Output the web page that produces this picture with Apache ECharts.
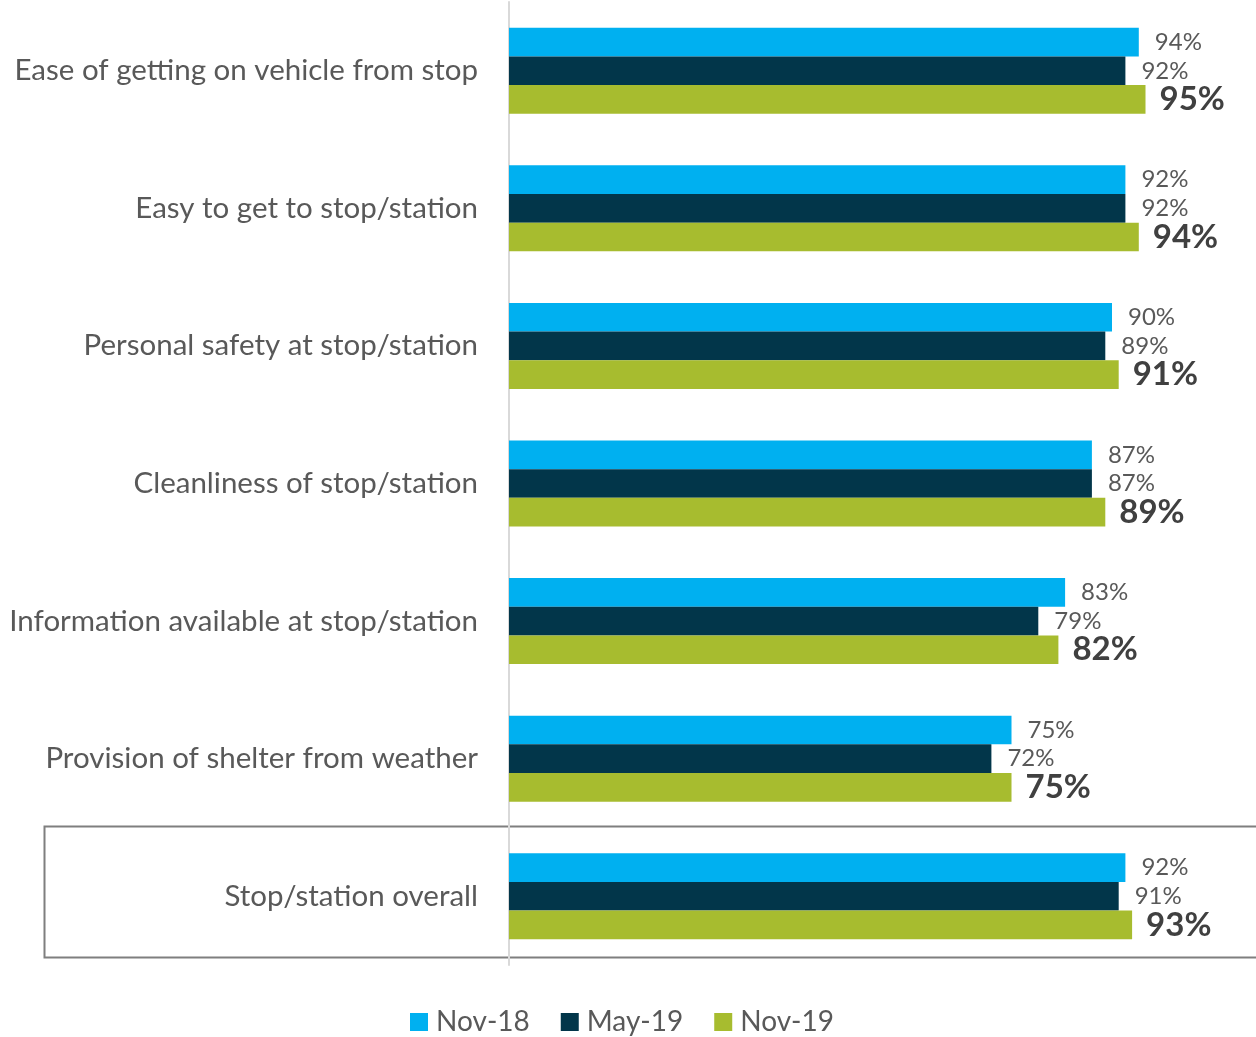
<!DOCTYPE html>
<html>
<head>
<meta charset="utf-8">
<script src="https://cdn.jsdelivr.net/npm/echarts@6/dist/echarts.min.js"></script>
<style>
  html, body { margin: 0; padding: 0; background: #fff; }
  #chart { width: 1256px; height: 1037px; }
</style>
</head>
<body>
<div id="chart"></div>
<script>
// Survey attributes (top to bottom)
const categories = [
  'Ease of getting on vehicle from stop',
  'Easy to get to stop/station',
  'Personal safety at stop/station',
  'Cleanliness of stop/station',
  'Information available at stop/station',
  'Provision of shelter from weather',
  'Stop/station overall'
];
const seriesNames = ['Nov-18', 'May-19', 'Nov-19'];
const nov18 = [94, 92, 90, 87, 83, 75, 92];
const may19 = [92, 92, 89, 87, 79, 72, 91];
const nov19 = [95, 94, 91, 89, 82, 75, 93];
const colors = ['#00B0F0', '#02364A', '#A7BC2F'];

const FONT = 'Lato, "Open Sans", sans-serif';
const chart = echarts.init(document.getElementById('chart'));

function barSeries(name, data, color, bold) {
  return {
    name: name,
    type: 'bar',
    data: data,
    barGap: '0%',
    barCategoryGap: '37.5%',
    itemStyle: { color: color },
    label: {
      show: true,
      position: 'right',
      distance: bold ? 14 : 16,
      formatter: '{c}%',
      fontFamily: FONT,
      fontSize: bold ? 33 : 24,
      fontWeight: bold ? 'bold' : 'normal',
      color: bold ? '#404040' : '#595959'
    }
  };
}

chart.setOption({
  animation: false,
  grid: { left: 509, top: 2, width: 670, height: 963, containLabel: false },
  xAxis: {
    type: 'value', min: 0, max: 100,
    show: false
  },
  yAxis: {
    type: 'category',
    data: categories,
    inverse: true,
    axisLine: { show: true, lineStyle: { color: '#D9D9D9', width: 2 } },
    axisTick: { show: false },
    axisLabel: {
      margin: 31,
      fontFamily: FONT,
      fontSize: 29.5,
      color: '#595959'
    }
  },
  legend: {
    top: 1003,
    left: 405,
    itemWidth: 18,
    itemHeight: 18,
    itemGap: 31,
    icon: 'rect',
    textStyle: { fontFamily: FONT, fontSize: 28, color: '#595959', padding: [0, 0, 0, 3] },
    data: seriesNames
  },
  graphic: [{
    type: 'rect',
    left: 42, top: 824,
    shape: { width: 1230, height: 131 },
    style: { fill: 'none', stroke: '#7F7F7F', lineWidth: 2 },
    silent: true
  }],
  series: [
    barSeries(seriesNames[0], nov18, colors[0], false),
    barSeries(seriesNames[1], may19, colors[1], false),
    barSeries(seriesNames[2], nov19, colors[2], true)
  ]
});
</script>
</body>
</html>
